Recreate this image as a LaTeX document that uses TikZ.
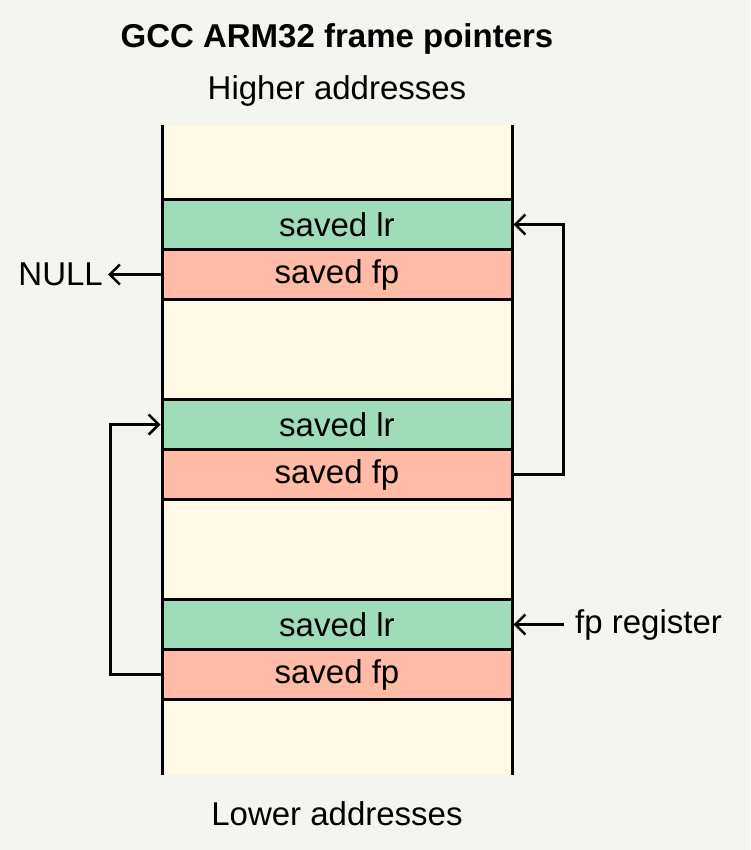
\documentclass[tikz,border=0pt]{standalone}
\usepackage{fontspec}
\setmainfont{Liberation Sans}
\usetikzlibrary{arrows.meta}
\definecolor{bgc}{RGB}{244,245,240}
\definecolor{cream}{RGB}{255,249,230}
\definecolor{lrgreen}{RGB}{158,220,186}
\definecolor{fpsalmon}{RGB}{255,187,165}
\tikzset{
  slot/.style={draw=black, line width=3pt, minimum width=350pt, minimum height=50pt, inner sep=0pt, font=\fontsize{33}{38}\selectfont},
  lrbox/.style={slot, fill=lrgreen},
  fpbox/.style={slot, fill=fpsalmon},
  lbl/.style={font=\fontsize{33}{38}\selectfont, inner sep=0pt},
  arr/.style={line width=2.5pt, -{Straight Barb[length=10pt,width=20pt,line width=2.5pt]}},
}
\begin{document}
\begin{tikzpicture}[x=1pt,y=-1pt]
\fill[bgc] (0,0) rectangle (750,850);
\useasboundingbox (0,0) rectangle (750,850);
\fill[cream] (162,125) rectangle (512,775);
\draw[line width=3pt] (162,125) -- (162,775);
\draw[line width=3pt] (512,125) -- (512,775);
\node[lrbox] (lr1) at (337,224.5) {saved lr};
\node[fpbox] (fp1) at (337,274.5) {saved fp};
\node[lrbox] (lr2) at (337,424.5) {saved lr};
\node[fpbox] (fp2) at (337,474.5) {saved fp};
\node[lrbox] (lr3) at (337,624.5) {saved lr};
\node[fpbox] (fp3) at (337,674.5) {saved fp};
\node[lbl, font=\fontsize{33}{38}\selectfont\bfseries] (title) at (337,39) {GCC ARM32 frame pointers};
\node[lbl] (hi) at (337,91) {Higher addresses};
\node[lbl] (lo) at (337,814) {Lower addresses};
\node[lbl, anchor=east, inner xsep=5pt] (nullt) at (108,274.5) {NULL};
\node[lbl, anchor=west, inner xsep=11pt] (fpreg) at (564,624.5) {fp register};
\draw[arr] (fp1.west) -- (nullt.east);
\draw[arr] (fp2.east) -- ++(50,0) |- (lr1.east);
\draw[arr] (fp3.west) -- ++(-50,0) |- (lr2.west);
\draw[arr] (fpreg.west) -- (fpreg.west -| lr3.east);
\end{tikzpicture}
\end{document}
